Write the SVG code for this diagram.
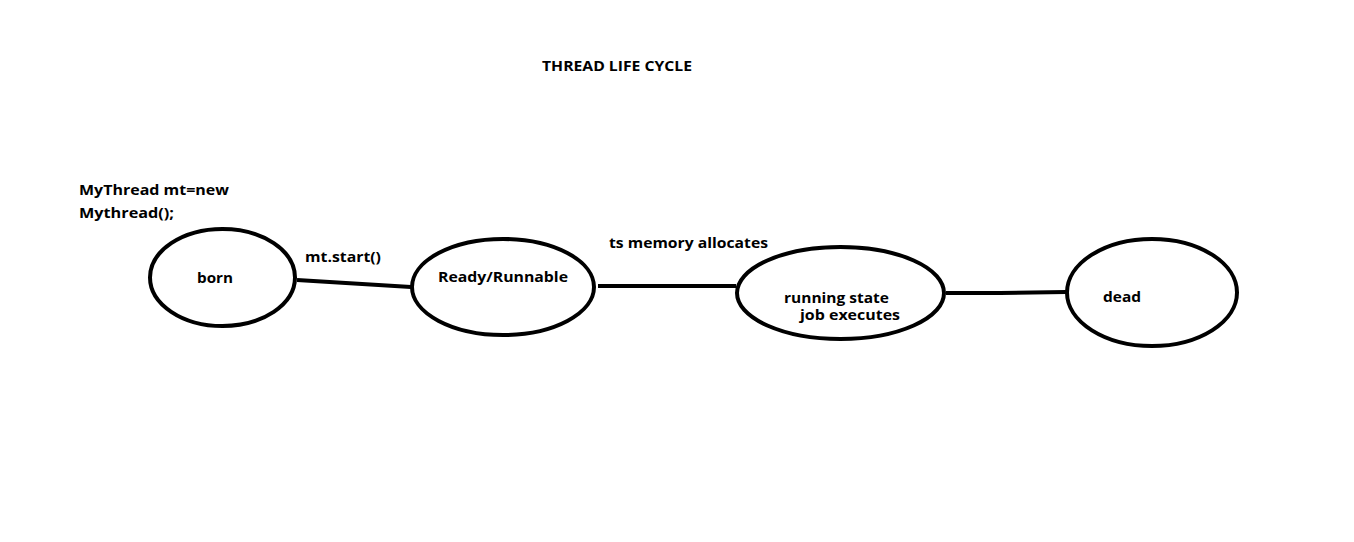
<svg xmlns="http://www.w3.org/2000/svg" width="1354" height="542" viewBox="0 0 1354 542">
<style>
text{font-family:"Open Sans","Liberation Sans",sans-serif;font-weight:bold;font-size:15px;fill:#000}
.small{font-size:13.5px}
.node{fill:none;stroke:#000;stroke-width:4}
.conn{fill:none;stroke:#000;stroke-width:4}
</style>
<rect width="1354" height="542" fill="#fff"/>
<text x="542" y="71" textLength="150" lengthAdjust="spacingAndGlyphs">THREAD LIFE CYCLE</text>
<text x="79" y="195" textLength="150" lengthAdjust="spacingAndGlyphs">MyThread mt=new</text>
<text x="79" y="218" textLength="95" lengthAdjust="spacingAndGlyphs">Mythread();</text>
<g id="connectors">
<path class="conn" d="M297,280 L411,287"/>
<path class="conn" d="M598,286 L736,286"/>
<path class="conn" d="M946,293 L1000,293 L1066,292"/>
<text x="305" y="262" textLength="76" lengthAdjust="spacingAndGlyphs">mt.start()</text>
<text x="609" y="248" textLength="159" lengthAdjust="spacingAndGlyphs">ts memory allocates</text>
</g>
<g id="born">
<ellipse class="node" cx="222.5" cy="277.5" rx="72.5" ry="48.5"/>
<text x="197" y="283" textLength="36" lengthAdjust="spacingAndGlyphs">born</text>
</g>
<g id="ready">
<ellipse class="node" cx="503" cy="287" rx="91" ry="48"/>
<text x="438" y="282" textLength="130" lengthAdjust="spacingAndGlyphs">Ready/Runnable</text>
</g>
<g id="running">
<ellipse class="node" cx="840.5" cy="293" rx="103.5" ry="46"/>
<text class="small" x="784" y="303" textLength="105" lengthAdjust="spacingAndGlyphs">running state</text>
<text class="small" x="800" y="320" textLength="100" lengthAdjust="spacingAndGlyphs">job executes</text>
</g>
<g id="dead">
<ellipse class="node" cx="1152" cy="292.5" rx="85" ry="53.5"/>
<text x="1103" y="302" textLength="38" lengthAdjust="spacingAndGlyphs">dead</text>
</g>
</svg>
